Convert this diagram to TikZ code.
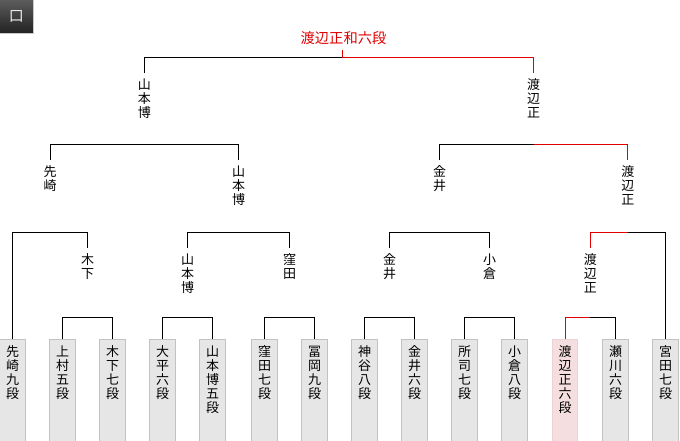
\documentclass[tikz,border=0pt]{standalone}
\usepackage{fontspec}
\setmainfont{Noto Sans CJK JP}
\definecolor{wred}{HTML}{E00000}
\definecolor{boxfill}{HTML}{E6E6E6}
\definecolor{boxedge}{HTML}{C2C2C2}
\definecolor{pinkfill}{HTML}{F4DEDF}
\definecolor{pinkedge}{HTML}{EDD2D3}
\definecolor{tabtop}{HTML}{5C5C5C}
\definecolor{tabbot}{HTML}{222222}
\definecolor{tabedge}{HTML}{C8C8C8}
\begin{document}
\begin{tikzpicture}[x=1pt,y=-1pt,
  ln/.style={draw=black,line width=1pt},
  win/.style={draw=wred,line width=1pt},
  player/.style={draw=boxedge,fill=boxfill,line width=1pt,minimum width=25.5pt,minimum height=104pt,inner sep=0pt,anchor=north},
  champbox/.style={player,draw=pinkedge,fill=pinkfill},
  vtext/.style={font=\fontsize{13}{14}\selectfont,align=center,inner sep=0pt,anchor=north},
  lab/.style={vtext,inner xsep=0pt,inner ysep=5.5pt},
]
\useasboundingbox (0,0) rectangle (680,440);
\fill[white] (0,0) rectangle (680,440);

% tab
\node[top color=tabtop,bottom color=tabbot,minimum size=33pt,inner sep=0pt,text=white!92!black,font=\fontsize{15}{15}\selectfont] (tab) at (16.5,16.5) {口};
\draw[tabedge,line width=1pt] (tab.north east) -- (tab.south east) -- (tab.south west);

% player boxes
\node[player] (b0) at (12.5,339) {};
\node[player] (b1) at (62.5,339) {};
\node[player] (b2) at (112.5,339) {};
\node[player] (b3) at (162.5,339) {};
\node[player] (b4) at (212.5,339) {};
\node[player] (b5) at (264.5,339) {};
\node[player] (b6) at (314.5,339) {};
\node[player] (b7) at (364.5,339) {};
\node[player] (b8) at (414.5,339) {};
\node[player] (b9) at (464.5,339) {};
\node[player] (b10) at (514.5,339) {};
\node[champbox] (b11) at (565,339) {};
\node[player] (b12) at (615.5,339) {};
\node[player] (b13) at (665.5,339) {};

\node[vtext] (t0) at ([yshift=-6.5pt]b0.north) {先\\崎\\九\\段};
\node[vtext] (t1) at ([yshift=-6.5pt]b1.north) {上\\村\\五\\段};
\node[vtext] (t2) at ([yshift=-6.5pt]b2.north) {木\\下\\七\\段};
\node[vtext] (t3) at ([yshift=-6.5pt]b3.north) {大\\平\\六\\段};
\node[vtext] (t4) at ([yshift=-6.5pt]b4.north) {山\\本\\博\\五\\段};
\node[vtext] (t5) at ([yshift=-6.5pt]b5.north) {窪\\田\\七\\段};
\node[vtext] (t6) at ([yshift=-6.5pt]b6.north) {冨\\岡\\九\\段};
\node[vtext] (t7) at ([yshift=-6.5pt]b7.north) {神\\谷\\八\\段};
\node[vtext] (t8) at ([yshift=-6.5pt]b8.north) {金\\井\\六\\段};
\node[vtext] (t9) at ([yshift=-6.5pt]b9.north) {所\\司\\七\\段};
\node[vtext] (t10) at ([yshift=-6.5pt]b10.north) {小\\倉\\八\\段};
\node[vtext] (t11) at ([yshift=-6.5pt]b11.north) {渡\\辺\\正\\六\\段};
\node[vtext] (t12) at ([yshift=-6.5pt]b12.north) {瀬\\川\\六\\段};
\node[vtext] (t13) at ([yshift=-6.5pt]b13.north) {宮\\田\\七\\段};

% round 1 winners
\node[lab] (w1a) at (87.5,248) {木\\下};
\node[lab] (w1b) at (187.5,248) {山\\本\\博};
\node[lab] (w1c) at (289.5,248) {窪\\田};
\node[lab] (w1d) at (389.5,248) {金\\井};
\node[lab] (w1e) at (489.5,248) {小\\倉};
\node[lab] (w1f) at (590.25,248) {渡\\辺\\正};

% round 2 winners
\node[lab] (w2a) at (50,160) {先\\崎};
\node[lab] (w2b) at (238.5,160) {山\\本\\博};
\node[lab] (w2c) at (439.5,160) {金\\井};
\node[lab] (w2d) at (627.9,160) {渡\\辺\\正};

% semifinal winners
\node[lab] (w3a) at (144.25,73) {山\\本\\博};
\node[lab] (w3b) at (533.7,73) {渡\\辺\\正};

% champion
\node[font=\fontsize{14.3}{15}\selectfont,text=wred,inner xsep=0pt,inner ysep=5.5pt,anchor=south] (ch) at (343.5,50) {渡辺正和六段};

% bar midpoints
\coordinate (m1a) at (87.5,317.5);
\coordinate (m1b) at (187.5,317.5);
\coordinate (m1c) at (289.5,317.5);
\coordinate (m1d) at (389.5,317.5);
\coordinate (m1e) at (489.5,317.5);
\coordinate (m1f) at (590.25,317.5);
\coordinate (m2a) at (50,232.5);
\coordinate (m2b) at (238.5,232.5);
\coordinate (m2c) at (439.5,232.5);
\coordinate (m2d) at (627.9,232.5);
\coordinate (m3a) at (144.25,144);
\coordinate (m3b) at (533.7,144);
\coordinate (m4) at (342,57.5);

% round 1
\draw[ln] (b1.north) |- (m1a); \draw[ln] (m1a) -| (b2.north);
\draw[ln] (b3.north) |- (m1b); \draw[ln] (m1b) -| (b4.north);
\draw[ln] (b5.north) |- (m1c); \draw[ln] (m1c) -| (b6.north);
\draw[ln] (b7.north) |- (m1d); \draw[ln] (m1d) -| (b8.north);
\draw[ln] (b9.north) |- (m1e); \draw[ln] (m1e) -| (b10.north);
\draw[win] (b11.north) |- (m1f); \draw[ln] (m1f) -| (b12.north);

% round 2
\draw[ln] (b0.north) |- (m2a); \draw[ln] (m2a) -| (w1a.north);
\draw[ln] (w1b.north) |- (m2b); \draw[ln] (m2b) -| (w1c.north);
\draw[ln] (w1d.north) |- (m2c); \draw[ln] (m2c) -| (w1e.north);
\draw[win] (w1f.north) |- (m2d); \draw[ln] (m2d) -| (b13.north);

% semifinals
\draw[ln] (w2a.north) |- (m3a); \draw[ln] (m3a) -| (w2b.north);
\draw[ln] (w2c.north) |- (m3b); \draw[win] (m3b) -| (w2d.north);

% final
\draw[ln] (w3a.north) |- (m4); \draw[win] (m4) -| (w3b.north);
\draw[win] (m4) -- (m4 |- ch.south);
\end{tikzpicture}
\end{document}
